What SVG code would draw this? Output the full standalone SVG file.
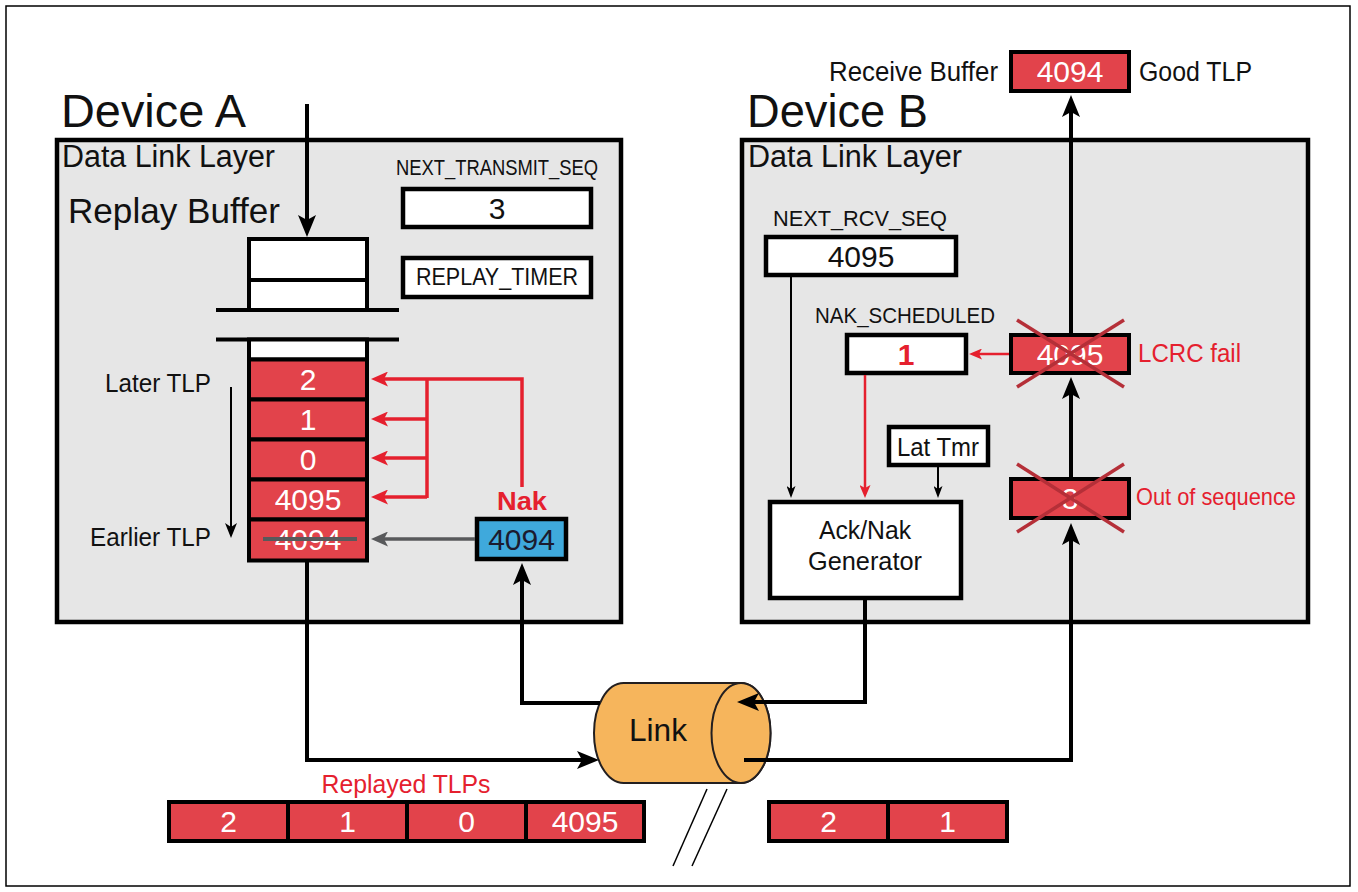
<svg xmlns="http://www.w3.org/2000/svg" width="1358" height="892" viewBox="0 0 1358 892">
<style>
text{font-family:"Liberation Sans",Arial,sans-serif;fill:#111}
.dev{font-size:47px}
.dll{font-size:31px}
.lbl{font-size:21px}
.num{font-size:30px;text-anchor:middle}
.wn{font-size:30px;text-anchor:middle;fill:#fff}
.red{fill:#e5202e}
.box{fill:#fff;stroke:#000;stroke-width:4.5}
.cell{fill:#e2434b;stroke:#000;stroke-width:4}
.layer{fill:#e6e6e6;stroke:#000;stroke-width:4.5}
.bl{fill:none;stroke:#000;stroke-width:4}
.tl{fill:none;stroke:#000;stroke-width:2}
.rl{fill:none;stroke:#e5202e;stroke-width:3.5}
.rt{fill:none;stroke:#e5202e;stroke-width:2.5}
.gl{fill:none;stroke:#58595b;stroke-width:3.5}
.x{stroke:#b52f38;stroke-width:3.5}
</style>
<defs>
<marker id="ab" markerUnits="userSpaceOnUse" viewBox="0 0 22 18" markerWidth="22" markerHeight="18" refX="6" refY="9" orient="auto"><path d="M22,9 L0,0 L5,9 L0,18 Z" fill="#000"/></marker>
<marker id="at" markerUnits="userSpaceOnUse" viewBox="0 0 15 12" markerWidth="15" markerHeight="12" refX="5" refY="6" orient="auto"><path d="M15,6 L0,0 L4,6 L0,12 Z" fill="#000"/></marker>
<marker id="at2" markerUnits="userSpaceOnUse" viewBox="0 0 12 9" markerWidth="12" markerHeight="9" refX="4" refY="4.5" orient="auto"><path d="M12,4.5 L0,0 L3,4.5 L0,9 Z" fill="#000"/></marker>
<marker id="ar" markerUnits="userSpaceOnUse" viewBox="0 0 17 15" markerWidth="17" markerHeight="15" refX="5" refY="7.5" orient="auto"><path d="M17,7.5 L0,0 L4,7.5 L0,15 Z" fill="#e5202e"/></marker>
<marker id="ar2" markerUnits="userSpaceOnUse" viewBox="0 0 13 11" markerWidth="13" markerHeight="11" refX="4" refY="5.5" orient="auto"><path d="M13,5.5 L0,0 L3,5.5 L0,11 Z" fill="#e5202e"/></marker>
<marker id="ag" markerUnits="userSpaceOnUse" viewBox="0 0 17 15" markerWidth="17" markerHeight="15" refX="5" refY="7.5" orient="auto"><path d="M17,7.5 L0,0 L4,7.5 L0,15 Z" fill="#58595b"/></marker>
</defs>
<rect x="6" y="6" width="1344" height="880" fill="#fff" stroke="#000" stroke-width="1.5"/>

<g id="deviceA">
<text class="dev" x="61" y="127" textLength="185" lengthAdjust="spacingAndGlyphs">Device A</text>
<rect class="layer" x="57" y="140" width="564" height="482"/>
<text class="dll" x="62" y="167" textLength="213" lengthAdjust="spacingAndGlyphs">Data Link Layer</text>
<text x="68" y="223" style="font-size:35px" textLength="212" lengthAdjust="spacingAndGlyphs">Replay Buffer</text>
</g>

<g id="next-transmit-seq">
<text class="lbl" x="497" y="175" text-anchor="middle" style="font-size:22px" textLength="202" lengthAdjust="spacingAndGlyphs">NEXT_TRANSMIT_SEQ</text>
<rect class="box" x="403" y="189" width="188" height="38"/>
<text class="num" x="497" y="219">3</text>
</g>

<g id="replay-timer">
<rect class="box" x="403" y="258" width="188" height="39"/>
<text class="lbl" x="497" y="285" text-anchor="middle" style="font-size:23px" textLength="162" lengthAdjust="spacingAndGlyphs">REPLAY_TIMER</text>
</g>

<g id="replay-buffer">
<rect x="249" y="239" width="118" height="71" fill="#fff" stroke="#000" stroke-width="4"/>
<line x1="249" y1="280" x2="367" y2="280" stroke="#000" stroke-width="4"/>
<line x1="216" y1="310" x2="399" y2="310" stroke="#000" stroke-width="4"/>
<line x1="216" y1="339.5" x2="399" y2="339.5" stroke="#000" stroke-width="4"/>
<rect x="249" y="339.5" width="118" height="20" fill="#fff" stroke="#000" stroke-width="4"/>
<rect class="cell" x="249" y="359.5" width="118" height="40"/>
<rect class="cell" x="249" y="399.5" width="118" height="40"/>
<rect class="cell" x="249" y="439.5" width="118" height="40"/>
<rect class="cell" x="249" y="479.5" width="118" height="40"/>
<rect class="cell" x="249" y="519.5" width="118" height="41"/>
<text class="wn" x="308" y="390">2</text>
<text class="wn" x="308" y="430">1</text>
<text class="wn" x="308" y="470">0</text>
<text class="wn" x="308" y="510">4095</text>
<text class="wn" x="308" y="550">4094</text>
<line x1="263" y1="539" x2="357" y2="539" stroke="#58595b" stroke-width="4"/>
<text x="211" y="392" text-anchor="end" style="font-size:26px" textLength="106" lengthAdjust="spacingAndGlyphs">Later TLP</text>
<text x="211" y="546" text-anchor="end" style="font-size:26px" textLength="121" lengthAdjust="spacingAndGlyphs">Earlier TLP</text>
</g>

<g id="nak-received">
<rect x="477" y="519" width="89" height="40" fill="#3fa9dc" stroke="#000" stroke-width="4.5"/>
<text class="num" x="521.5" y="550" style="fill:#1b1b2f">4094</text>
<text class="red" x="522" y="510" text-anchor="middle" style="font-size:26px;font-weight:bold" textLength="50" lengthAdjust="spacingAndGlyphs">Nak</text>
</g>

<g id="deviceB">
<text class="dev" x="747" y="127" textLength="181" lengthAdjust="spacingAndGlyphs">Device B</text>
<rect class="layer" x="742" y="140" width="566" height="482"/>
<text class="dll" x="748" y="167" textLength="214" lengthAdjust="spacingAndGlyphs">Data Link Layer</text>
</g>

<g id="receive-buffer">
<text x="998" y="81" text-anchor="end" style="font-size:27px" textLength="169" lengthAdjust="spacingAndGlyphs">Receive Buffer</text>
<rect class="cell" x="1011" y="52" width="118" height="39" stroke-width="4.5"/>
<text class="wn" x="1070" y="82">4094</text>
<text x="1139" y="81" style="font-size:27px" textLength="113" lengthAdjust="spacingAndGlyphs">Good TLP</text>
</g>

<g id="next-rcv-seq">
<text class="lbl" x="860" y="226" text-anchor="middle" style="font-size:22px" textLength="174" lengthAdjust="spacingAndGlyphs">NEXT_RCV_SEQ</text>
<rect class="box" x="766" y="237" width="190" height="38"/>
<text class="num" x="861" y="267">4095</text>
</g>

<g id="nak-scheduled">
<text class="lbl" x="815" y="323" style="font-size:22px" textLength="180" lengthAdjust="spacingAndGlyphs">NAK_SCHEDULED</text>
<rect class="box" x="847" y="335" width="119" height="38"/>
<text class="num red" x="906" y="365" style="font-weight:bold">1</text>
</g>

<g id="lcrc-fail">
<rect class="cell" x="1011" y="335" width="118" height="38" stroke-width="4.5"/>
<text class="wn" x="1070" y="365">4095</text>
<line class="x" x1="1017" y1="320" x2="1124" y2="387"/>
<line class="x" x1="1124" y1="320" x2="1017" y2="387"/>
<text class="red" x="1138" y="362" style="font-size:25px" textLength="103" lengthAdjust="spacingAndGlyphs">LCRC fail</text>
</g>

<g id="out-of-sequence">
<rect class="cell" x="1011" y="479" width="118" height="39" stroke-width="4.5"/>
<text class="wn" x="1070" y="509">3</text>
<line class="x" x1="1017" y1="464" x2="1124" y2="532"/>
<line class="x" x1="1124" y1="464" x2="1017" y2="532"/>
<text class="red" x="1136" y="505" style="font-size:24px" textLength="160" lengthAdjust="spacingAndGlyphs">Out of sequence</text>
</g>

<g id="lat-tmr">
<rect class="box" x="889" y="427" width="99" height="38"/>
<text x="938" y="456" text-anchor="middle" style="font-size:25px" textLength="82" lengthAdjust="spacingAndGlyphs">Lat Tmr</text>
</g>

<g id="ack-nak-generator">
<rect class="box" x="770" y="502" width="191" height="96" stroke-width="5"/>
<text x="865" y="539" text-anchor="middle" style="font-size:25px" textLength="92" lengthAdjust="spacingAndGlyphs">Ack/Nak</text>
<text x="865" y="570" text-anchor="middle" style="font-size:25px" textLength="114" lengthAdjust="spacingAndGlyphs">Generator</text>
</g>

<g id="link">
<path d="M741,683 H623.5 A29.5,50 0 0 0 623.5,783 H741 A29.5,50 0 0 0 741,683 Z" fill="#f6b55c" stroke="#231f20" stroke-width="2"/>
<ellipse cx="741" cy="733" rx="29.5" ry="50" fill="#f6b55c" stroke="#231f20" stroke-width="2"/>
<text x="658" y="741" text-anchor="middle" style="font-size:32px" textLength="58" lengthAdjust="spacingAndGlyphs">Link</text>
<line x1="707" y1="789" x2="673" y2="866" stroke="#000" stroke-width="1.5"/>
<line x1="727" y1="789" x2="692" y2="866" stroke="#000" stroke-width="1.5"/>
</g>

<g id="replayed-tlps">
<text class="red" x="406" y="793" text-anchor="middle" style="font-size:26px" textLength="169" lengthAdjust="spacingAndGlyphs">Replayed TLPs</text>
<rect class="cell" x="169" y="802" width="119" height="39"/>
<rect class="cell" x="288" y="802" width="119" height="39"/>
<rect class="cell" x="407" y="802" width="119" height="39"/>
<rect class="cell" x="526" y="802" width="118" height="39"/>
<text class="wn" x="228.5" y="832">2</text>
<text class="wn" x="347.5" y="832">1</text>
<text class="wn" x="466.5" y="832">0</text>
<text class="wn" x="585" y="832">4095</text>
</g>

<g id="in-flight-tlps">
<rect class="cell" x="769" y="802" width="119" height="39"/>
<rect class="cell" x="888" y="802" width="119" height="39"/>
<text class="wn" x="828.5" y="832">2</text>
<text class="wn" x="947.5" y="832">1</text>
</g>

<g id="connectors">
<path class="bl" d="M307,104 V221" marker-end="url(#ab)"/>
<path class="bl" d="M307,561 V760 H583" marker-end="url(#ab)"/>
<path class="bl" d="M600,703 H522 V579" marker-end="url(#ab)"/>
<path class="bl" d="M865,600 V702 H753" marker-end="url(#ab)"/>
<path class="bl" d="M744,760 H1071 V539" marker-end="url(#ab)"/>
<path class="bl" d="M1071,477 V393" marker-end="url(#ab)"/>
<path class="bl" d="M1071,333 V111" marker-end="url(#ab)"/>
<path class="tl" d="M231,387 V528" stroke-width="2.5" marker-end="url(#at)"/>
<path class="tl" d="M791,277 V490" marker-end="url(#at2)"/>
<path class="tl" d="M938,467 V490" marker-end="url(#at2)"/>
<path class="rt" d="M1009,354 H978" marker-end="url(#ar2)"/>
<path class="rt" d="M865,375 V489" marker-end="url(#ar2)"/>
<path class="rl" d="M522,487 V379 H383" marker-end="url(#ar)"/>
<path class="rl" d="M427,379 V498"/>
<path class="rl" d="M427,419 H383" marker-end="url(#ar)"/>
<path class="rl" d="M427,458 H383" marker-end="url(#ar)"/>
<path class="rl" d="M427,497 H383" marker-end="url(#ar)"/>
<path class="gl" d="M475,539 H383" marker-end="url(#ag)"/>
</g>
</svg>
